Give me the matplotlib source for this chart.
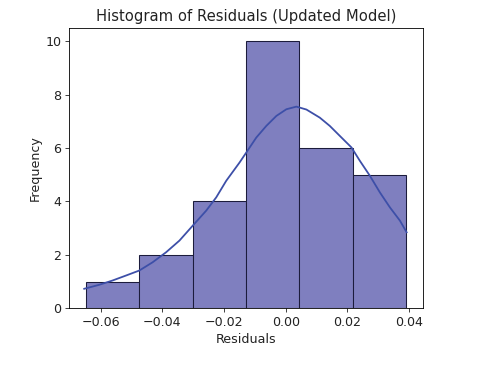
import numpy as np
import matplotlib
matplotlib.use("Agg")
import matplotlib.pyplot as plt

# Histogram data
bin_edges = [-0.0649, -0.04757, -0.03023, -0.0129, 0.00443, 0.02177, 0.0391]
counts = [1, 2, 4, 10, 6, 5]

# KDE curve (in count units)
kde_x = [-0.06537, -0.06049, -0.05616, -0.05180, -0.04748, -0.04315, -0.03880,
         -0.03447, -0.03015, -0.02579, -0.02254, -0.01928, -0.01496, -0.01278,
         -0.00953, -0.00628, -0.00302, 0.00023, 0.00348, 0.00673, 0.01106,
         0.01431, 0.01756, 0.02137, 0.02407, 0.02732, 0.03057, 0.03382,
         0.03707, 0.03925]
kde_y = [0.735, 0.884, 1.045, 1.231, 1.418, 1.728, 2.101,
         2.537, 3.097, 3.657, 4.153, 4.776, 5.459, 5.832,
         6.392, 6.828, 7.201, 7.451, 7.549, 7.440, 7.138,
         6.828, 6.455, 6.019, 5.522, 4.963, 4.340, 3.780,
         3.284, 2.847]

title = "Histogram of Residuals (Updated Model)"
xlabel = "Residuals"
ylabel = "Frequency"

fig = plt.figure(figsize=(486 / 76, 365 / 76), dpi=76)
ax = fig.add_axes([0.142, 0.155, 0.728, 0.769])

lefts = np.array(bin_edges[:-1])
widths = np.diff(bin_edges)
ax.bar(lefts, counts, width=widths, align="edge", color="#7f7fbf",
       edgecolor="#1c1c3c", linewidth=1.0)
ax.plot(kde_x, kde_y, color="#3d4fa8", linewidth=1.7)

ax.set_xlim(-0.0703, 0.0445)
ax.set_ylim(0, 10.5)
ax.set_xticks([-0.06, -0.04, -0.02, 0.00, 0.02, 0.04])
ax.set_yticks([0, 2, 4, 6, 8, 10])
ax.tick_params(labelsize=12, colors="#222222")
ax.set_title(title, fontsize=14, color="#222222")
ax.set_xlabel(xlabel, fontsize=12, color="#222222")
ax.set_ylabel(ylabel, fontsize=12, color="#222222")

fig.savefig("out.png", dpi=76)
